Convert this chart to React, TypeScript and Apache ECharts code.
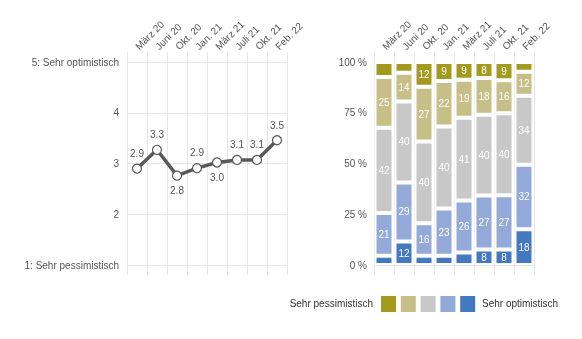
import React, { useEffect, useRef } from 'react';
import * as echarts from 'echarts';

const categories = ['März 20', 'Juni 20', 'Okt. 20', 'Jan. 21', 'März 21', 'Juli 21', 'Okt. 21', 'Feb. 22'];
const meanValues = [2.9, 3.27, 2.76, 2.91, 3.02, 3.07, 3.07, 3.46];
const meanLabelBelow = [false, false, true, false, true, false, false, false];
const meanTickLabels = ['1: Sehr pessimistisch', '2', '3', '4', '5: Sehr optimistisch'];
const percentTicks = [0, 25, 50, 75, 100];

const sehrOptimistisch = [4.6, 11.6, 4.5, 4.6, 6.2, 7.6, 7.6, 17.6];
const eherOptimistisch = [21, 29.1, 16.1, 23.2, 25.6, 26.6, 26.8, 31.8];
const neutral = [42, 39.8, 40.2, 40.4, 40.7, 39.8, 40.4, 34];
const eherPessimistisch = [25, 14.2, 27, 22.4, 18.8, 18.1, 16.2, 11.8];
const sehrPessimistisch = [7.4, 5.3, 12.2, 9.4, 8.7, 7.9, 9, 4.8];

const seriesNames = ['Sehr optimistisch', 'Eher optimistisch', 'Neutral', 'Eher pessimistisch', 'Sehr pessimistisch'];
const seriesColors = ['#4478bf', '#93aad8', '#c8c8c8', '#c7bf88', '#a39b20'];
const legendLeft = 'Sehr pessimistisch';
const legendRight = 'Sehr optimistisch';

const FONT = 'Liberation Sans, Arial, Helvetica, sans-serif';
const GRID_COLOR = '#e6e6e6';
const TEXT_COLOR = '#555';

export default function App() {
  const ref = useRef<HTMLDivElement>(null);
  useEffect(() => {
    if (!ref.current) return;
    const chart = echarts.init(ref.current, undefined, { renderer: 'svg' });
    const barData = [sehrOptimistisch, eherOptimistisch, neutral, eherPessimistisch, sehrPessimistisch];

    const outerX = (gridIndex: number) => ({
      type: 'category',
      gridIndex,
      data: categories,
      position: 'top',
      boundaryGap: true,
      axisLine: { show: false },
      axisTick: { show: false },
      splitLine: { show: true, lineStyle: { color: GRID_COLOR, width: 1 } },
      axisLabel: { rotate: 45, margin: 4, color: TEXT_COLOR, fontSize: 10, fontFamily: FONT, interval: 0 },
    });
    const innerX = (gridIndex: number) => ({
      type: 'category',
      gridIndex,
      data: categories,
      boundaryGap: true,
      show: false,
    });

    const legendGraphics: any[] = [];
    legendGraphics.push({
      type: 'text',
      right: 582 - 373,
      top: 298,
      style: { text: legendLeft, fontSize: 10, fontFamily: FONT, fill: '#333', textAlign: 'right' },
    });
    const legendOrder = [4, 3, 2, 1, 0];
    legendOrder.forEach((si, i) => {
      legendGraphics.push({
        type: 'rect',
        shape: { x: 381 + i * 19.8, y: 296, width: 15, height: 16 },
        style: { fill: seriesColors[si] },
      });
    });
    legendGraphics.push({
      type: 'text',
      left: 482,
      top: 298,
      style: { text: legendRight, fontSize: 10, fontFamily: FONT, fill: '#333' },
    });

    chart.setOption({
      animation: false,
      textStyle: { fontFamily: FONT },
      grid: [
        { left: 127, width: 160, top: 52, bottom: 64 },
        { left: 127, width: 160, top: 62, bottom: 74 },
        { left: 374, width: 160, top: 52, bottom: 64 },
        { left: 374, width: 160, top: 62, bottom: 74 },
      ],
      xAxis: [outerX(0), innerX(1), outerX(2), innerX(3)],
      yAxis: [
        { type: 'value', gridIndex: 0, min: 0, max: 1, show: false },
        {
          type: 'value',
          gridIndex: 1,
          min: 1,
          max: 5,
          interval: 1,
          axisLine: { show: false },
          axisTick: { show: false },
          splitLine: { show: true, lineStyle: { color: GRID_COLOR, width: 1 } },
          axisLabel: {
            margin: 8,
            color: TEXT_COLOR,
            fontSize: 10,
            fontFamily: FONT,
            formatter: (v: number) => meanTickLabels[Math.round(v) - 1] ?? String(v),
          },
        },
        { type: 'value', gridIndex: 2, min: 0, max: 1, show: false },
        {
          type: 'value',
          gridIndex: 3,
          min: percentTicks[0],
          max: percentTicks[percentTicks.length - 1],
          interval: percentTicks[1] - percentTicks[0],
          axisLine: { show: false },
          axisTick: { show: false },
          splitLine: { show: true, lineStyle: { color: GRID_COLOR, width: 1 } },
          axisLabel: {
            margin: 7,
            color: TEXT_COLOR,
            fontSize: 10,
            fontFamily: FONT,
            formatter: (v: number) => `${v} %`,
          },
        },
      ],
      series: [
        {
          type: 'line',
          xAxisIndex: 1,
          yAxisIndex: 1,
          data: meanValues.map((v, i) => ({
            value: v,
            label: { position: meanLabelBelow[i] ? 'bottom' : 'top' },
          })),
          symbol: 'circle',
          symbolSize: 9,
          lineStyle: { color: '#595959', width: 3.5 },
          itemStyle: { color: '#fff', borderColor: '#555', borderWidth: 1.2 },
          label: {
            show: true,
            fontSize: 10,
            fontFamily: FONT,
            color: TEXT_COLOR,
            distance: 5,
            formatter: (p: any) => Number(p.value).toFixed(1),
          },
          z: 3,
        },
        ...barData.map((arr, si) => ({
          type: 'bar',
          name: seriesNames[si],
          xAxisIndex: 3,
          yAxisIndex: 3,
          stack: 'total',
          data: arr,
          barWidth: 19,
          itemStyle: { color: seriesColors[si], borderColor: '#fff', borderWidth: 2 },
          label: {
            show: true,
            position: 'inside',
            color: '#fff',
            fontSize: 10,
            fontFamily: FONT,
            formatter: (p: any) => (Math.round(p.value) >= 8 ? String(Math.round(p.value)) : ''),
          },
        })),
      ],
      graphic: legendGraphics,
    });
    return () => chart.dispose();
  }, []);
  return <div ref={ref} style={{ position: 'fixed', left: 0, top: 0, width: 582, height: 339 }} />;
}
